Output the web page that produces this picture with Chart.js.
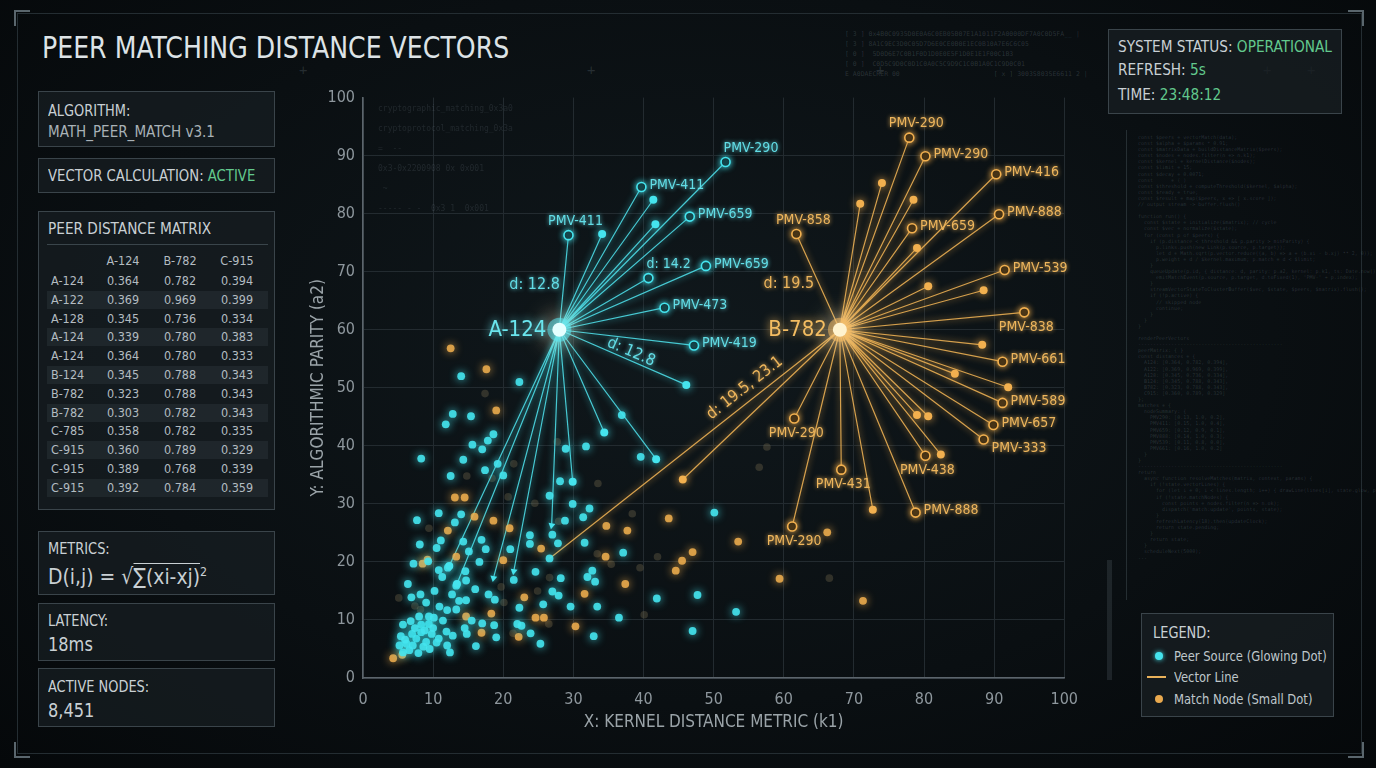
<!DOCTYPE html>
<html>
<head>
<meta charset="utf-8">
<title>Peer Matching Distance Vectors</title>
<script src="https://cdn.jsdelivr.net/npm/chart.js@4.4.1/dist/chart.umd.min.js"></script>
<style>
  html, body { margin: 0; padding: 0; }
  body {
    width: 1376px; height: 768px; overflow: hidden; position: relative;
    background: radial-gradient(ellipse at 50% 45%, #10181c 0%, #0a0f12 60%, #05080a 100%);
    font-family: "Liberation Sans Narrow", "DejaVu Sans Condensed", "Roboto Condensed", "DejaVu Sans", sans-serif;
    color: #c9d0d4;
  }
  .abs { position: absolute; }
  .nx { display: inline-block; transform: scaleX(0.9); transform-origin: 0 50%; white-space: nowrap; }
  .frame { left: 17px; top: 13px; width: 1343px; height: 739px; border: 1px solid #242d32; }
  .corner { width: 14px; height: 14px; border-color: #5a666d; border-style: solid; }
  .title { left: 42px; top: 29px; font-size: 30px; line-height: 38px; color: #dde3e6; white-space: nowrap; }
  .panel { position: absolute; left: 38px; width: 237px; box-sizing: border-box;
    border: 1px solid #3a444a; background: rgba(24, 31, 35, 0.72); }
  .panel .t { position: absolute; left: 9px; font-size: 16px; line-height: 20px; white-space: nowrap; }
  .dim { color: #a9b2b7; }
  .ok { color: #62c98d; }
  .row { position: absolute; left: 8px; width: 221px; height: 18px; font-size: 12.5px; line-height: 18px; color: #b3bcc1; }
  .row.alt { background: rgba(60, 72, 78, 0.28); }
  .row span { position: absolute; top: 0; text-align: center; width: 40px; }
  .c0 { left: 4px; text-align: left !important; }
  .c1 { left: 56px; } .c2 { left: 113px; } .c3 { left: 170px; }
  .box { position: absolute; box-sizing: border-box; border: 1px solid #3a444a; background: rgba(24, 31, 35, 0.75); }
  .code { font-family: "DejaVu Sans Mono", monospace; white-space: pre; color: rgba(150, 168, 178, 0.22); }
  .plus { color: rgba(120, 135, 145, 0.25); font-size: 14px; font-family: "DejaVu Sans Mono", monospace; }
  #chartWrap { position: absolute; left: 300px; top: 80px; width: 790px; height: 670px; }
</style>
</head>
<body>
<div class="abs frame"></div>
<div class="abs corner" style="left:14px;top:10px;border-width:2px 0 0 2px;"></div>
<div class="abs corner" style="left:1348px;top:10px;border-width:2px 2px 0 0;"></div>
<div class="abs corner" style="left:14px;top:742px;border-width:0 0 2px 2px;"></div>
<div class="abs corner" style="left:1348px;top:742px;border-width:0 2px 2px 0;"></div>

<div class="abs plus" style="left:299px;top:62px;">+</div>
<div class="abs plus" style="left:587px;top:62px;">+</div>
<div class="abs plus" style="left:876px;top:62px;">+</div>
<div class="abs plus" style="left:1263px;top:62px;">+</div>
<div class="abs plus" style="left:1307px;top:62px;">+</div>

<div class="abs title"><span class="nx" style="transform:scaleX(0.935)">PEER MATCHING DISTANCE VECTORS</span></div>

<div class="abs code" style="left:845px;top:29px;font-size:6.5px;line-height:10px;">[ 3 ] 0x4B0C0935D0E0A6C0EB05B07E1A1011F2A0000DF7A0C0D5FA__ |
[ 3 ] 8A1C9EC3D0C05D7D6E0CE0B0E1EC0B10A7E6C6C05
[ 0 ]  5D0D6E7C0B1F0D1D0E0E5F1D0E1E1F00C1B3
[ 0 ]  C0D5C9D0C0D1C0A0C5C9D9C1C0B1A0C1C9D0C01
E A0DAECRER 00                        [ x ] 3003S803SE6611 2 |</div>

<div class="panel" style="top:91px;height:56px;">
  <div class="t" style="top:9px;"><span class="nx">ALGORITHM:</span></div>
  <div class="t dim" style="top:30px;"><span class="nx" style="transform:scaleX(0.94)">MATH_PEER_MATCH v3.1</span></div>
</div>
<div class="panel" style="top:158px;height:35px;">
  <div class="t" style="top:7px;"><span class="nx" style="transform:scaleX(0.92)">VECTOR CALCULATION: <span class="ok">ACTIVE</span></span></div>
</div>
<div class="panel" style="top:211px;height:299px;" id="matrix">
  <div class="t" style="top:7px;"><span class="nx" style="transform:scaleX(0.95)">PEER DISTANCE MATRIX</span></div>
  <div class="abs" style="left:8px;top:32px;width:221px;height:1px;background:#3a454b;"></div>
</div>
<div class="panel" style="top:531px;height:64px;">
  <div class="t" style="top:7px;"><span class="nx">METRICS:</span></div>
  <div class="t" style="top:27px;font-size:22px;line-height:26px;"><span class="nx" style="transform:scaleX(0.95)">D(i,j) = √<span style="border-top:1.5px solid #c9d0d4;">∑(xi-xj)</span><sup style="font-size:13px;">2</sup></span></div>
</div>
<div class="panel" style="top:603px;height:58px;">
  <div class="t" style="top:7px;"><span class="nx">LATENCY:</span></div>
  <div class="t" style="top:28px;font-size:20px;line-height:24px;"><span class="nx">18ms</span></div>
</div>
<div class="panel" style="top:668px;height:59px;">
  <div class="t" style="top:8px;"><span class="nx">ACTIVE NODES:</span></div>
  <div class="t" style="top:29px;font-size:20px;line-height:24px;"><span class="nx">8,451</span></div>
</div>

<div class="box" style="left:1108px;top:29px;width:234px;height:85px;">
  <div class="abs" style="left:9px;top:7px;font-size:16px;line-height:20px;"><span class="nx" style="transform:scaleX(0.95)">SYSTEM STATUS: <span class="ok">OPERATIONAL</span></span></div>
  <div class="abs" style="left:9px;top:30px;font-size:16px;line-height:20px;"><span class="nx" style="transform:scaleX(0.95)">REFRESH: <span class="ok">5s</span></span></div>
  <div class="abs" style="left:9px;top:55px;font-size:16px;line-height:20px;"><span class="nx" style="transform:scaleX(0.95)">TIME: <span class="ok">23:48:12</span></span></div>
</div>

<div class="abs" style="left:1126px;top:130px;width:1px;height:470px;background:rgba(90,105,112,0.35);"></div>
<div class="abs" style="left:1107px;top:560px;width:5px;height:120px;background:rgba(90,105,112,0.25);"></div>
<div class="abs code" style="left:1138px;top:134px;font-size:5px;line-height:6.1px;">const $peers = vectorMatch(data);
const $alpha = $params * 0.91;
const $matrixData = buildDistanceMatrix($peers);
const $nodes = nodes.filter(n =&gt; n.k1);
const $kernel = kernelDistance($nodes);
const $limit = 15;
const $decay = 0.0071;
const      = ( )
const $threshold = computeThreshold($kernel, $alpha);
const $ready = true;
const $result = map($peers, x =&gt; [ x.score ]);
// output stream -&gt; buffer.flush()

function run() {
  const $state = initialize($matrix); // cycle
  const $vec = normalize($state);
  for (const p of $peers) {
    if (p.distance &lt; threshold &amp;&amp; p.parity &gt; minParity) {
      p.links.push(new Link(p.source, p.target));
      let d = Math.sqrt(p.vector.reduce((a, b) =&gt; a + (b.xi - b.xj) ** 2, 0));
      p.weight = d / $kernel.maximum; p.match = d &lt; $limit;
    }
    queueUpdate(p.id, { distance: d, parity: p.a2, kernel: p.k1, ts: Date.now() });
      emitMatchEvent(p.source, p.target, d.toFixed(1), 'PMV-' + p.index);
    }
    streamVectorStateToClusterBuffer($vec, $state, $peers, $matrix).flush();
    if (!p.active) {
      // skipped node
      continue;
    }
  }
}

renderPeerVectors
------------------------------------------------
peerMatrix: { }
const distances = {
  A124: [0.364, 0.782, 0.394],
  A122: [0.369, 0.969, 0.399],
  A128: [0.345, 0.736, 0.334],
  B124: [0.345, 0.788, 0.343],
  B782: [0.323, 0.788, 0.343],
  C915: [0.360, 0.789, 0.329]
};
matches = {
  nodeSummary: {
    PMV290: [0.13, 1.0, 0.2],
    PMV411: [0.15, 1.0, 0.4],
    PMV659: [0.12, 0.9, 0.1],
    PMV888: [0.14, 1.0, 0.3],
    PMV539: [0.11, 0.8, 0.0],
    PMV661: [0.16, 1.0, 0.2]
  }
}
------------------------------------------------
return
  async function resolveMatches(matrix, context, params) {
    if (!state.vectorLines) {
      for (let i = 0; i &lt; lines.length; i++) { drawLine(lines[i], state.glow, params.width) }
      if (!state.matchNodes) {
        const points = nodes.filter(n =&gt; n.ok);
        dispatch('match:update', points, state);
      }
      refreshLatency(18).then(updateClock);
      return state.pending;
    }
    return state;
  }
  scheduleNext(5000);
...</div>

<div id="chartWrap"><canvas id="peerChart" width="790" height="670"></canvas></div>

<div class="box" style="left:1141px;top:613px;width:193px;height:104px;">
  <div class="abs" style="left:11px;top:9px;font-size:16px;line-height:20px;"><span class="nx">LEGEND:</span></div>
  <div class="abs" style="left:13px;top:38px;width:8px;height:8px;border-radius:50%;background:#45e4ee;box-shadow:0 0 5px #45e4ee;"></div>
  <div class="abs" style="left:32px;top:32px;font-size:14px;line-height:20px;color:#bfc7cb;"><span class="nx" style="transform:scaleX(0.92)">Peer Source (Glowing Dot)</span></div>
  <div class="abs" style="left:5px;top:62px;width:19px;height:2px;background:#e9b15a;"></div>
  <div class="abs" style="left:32px;top:53px;font-size:14px;line-height:20px;color:#bfc7cb;"><span class="nx" style="transform:scaleX(0.92)">Vector Line</span></div>
  <div class="abs" style="left:13px;top:81px;width:8px;height:8px;border-radius:50%;background:#e9a94e;"></div>
  <div class="abs" style="left:32px;top:75px;font-size:14px;line-height:20px;color:#bfc7cb;"><span class="nx" style="transform:scaleX(0.92)">Match Node (Small Dot)</span></div>
</div>

<script>
// ---- data ----
const matrixCols = ['A-124', 'B-782', 'C-915'];
const matrixRows = ['A-124', 'A-122', 'A-128', 'A-124', 'A-124', 'B-124', 'B-782', 'B-782', 'C-785', 'C-915', 'C-915', 'C-915'];
const matrixValues = [
  ['0.364', '0.782', '0.394'], ['0.369', '0.969', '0.399'], ['0.345', '0.736', '0.334'],
  ['0.339', '0.780', '0.383'], ['0.364', '0.780', '0.333'], ['0.345', '0.788', '0.343'],
  ['0.323', '0.788', '0.343'], ['0.303', '0.782', '0.343'], ['0.358', '0.782', '0.335'],
  ['0.360', '0.789', '0.329'], ['0.389', '0.768', '0.339'], ['0.392', '0.784', '0.359']
];

const xTicks = [0, 10, 20, 30, 40, 50, 60, 70, 80, 90, 100];
const yTicks = [0, 10, 20, 30, 40, 50, 60, 70, 80, 90, 100];

const sourceNames = ['A-124', 'B-782'];
const sourcePoints = [[28, 60], [68, 60]];

// matches of A-124 (cyan)
const aMatchPoints = [[51.7, 88.9], [39.7, 84.6], [41.4, 82.4], [46.6, 79.5], [41.7, 78.2], [29.3, 76.3], [34.1, 76.5],
  [48.9, 71.0], [40.7, 68.9], [43.0, 63.8], [47.2, 57.3], [46.1, 50.5], [34.4, 42.3], [41.8, 37.7], [29.9, 33.8],
  [26.9, 26.3], [21.5, 18.4], [18.6, 17.2], [13.4, 16.2], [12.3, 19.3]];
const aMatchLabels = ['PMV-290', 'PMV-411', '', 'PMV-659', '', 'PMV-411', '', 'PMV-659', 'd: 14.2', 'PMV-473', 'PMV-419',
  '', '', '', '', '', '', '', '', ''];
const aMatchKinds = ['open', 'open', 'dot', 'open', 'dot', 'open', 'dot', 'open', 'open', 'open', 'open',
  'dot', 'dot', 'dot', 'dot', 'arrow', 'arrow', 'arrow', 'dot', 'dot'];

// matches of B-782 (amber)
const bMatchPoints = [[77.9, 93.1], [80.2, 89.9], [90.3, 86.8], [90.7, 79.9], [61.8, 76.5], [78.3, 77.5], [91.5, 70.3],
  [94.3, 63.0], [91.2, 54.5], [91.2, 47.4], [89.9, 43.6], [88.5, 41.1], [80.2, 38.3], [68.2, 35.9], [78.8, 28.5],
  [61.5, 44.7], [61.2, 26.1], [74.0, 85.3], [70.9, 81.7], [78.5, 82.4], [79.0, 74.1], [80.6, 67.5], [88.5, 66.8],
  [88.3, 57.4], [84.4, 52.4], [92.0, 50.1], [79.0, 45.3], [80.6, 45.1], [82.4, 38.5], [72.7, 29.0], [45.6, 34.2],
  [26.6, 20.6]];
const bMatchLabels = ['PMV-290', 'PMV-290', 'PMV-416', 'PMV-888', 'PMV-858', 'PMV-659', 'PMV-539', 'PMV-838', 'PMV-661',
  'PMV-589', 'PMV-657', 'PMV-333', 'PMV-438', 'PMV-431', 'PMV-888', 'PMV-290', 'PMV-290',
  '', '', '', '', '', '', '', '', '', '', '', '', '', '', ''];
const bMatchKinds = ['open', 'open', 'open', 'open', 'open', 'open', 'open', 'open', 'open', 'open', 'open', 'open',
  'open', 'open', 'open', 'open', 'open', 'dot', 'dot', 'dot', 'dot', 'dot', 'dot', 'dot', 'dot', 'dot', 'dot',
  'dot', 'dot', 'dot', 'dot', 'link'];

// unmatched nodes of the cloud
const cloudCyan = [[14.0, 52.0], [22.3, 51.0], [12.8, 45.5], [15.4, 45.1], [11.8, 43.7], [18.6, 42.0], [17.8, 40.9],
  [17.0, 39.4], [15.6, 40.2], [8.3, 37.8], [14.3, 37.6], [36.9, 45.3], [31.8, 39.9], [28.9, 39.5], [39.6, 38.1],
  [12.5, 34.8], [17.4, 35.8], [20.0, 34.9], [19.2, 36.9], [28.1, 33.9], [29.9, 30.0], [26.6, 31.4], [32.3, 29.2],
  [31.4, 27.7], [28.8, 27.1], [27.0, 24.7], [27.8, 23.2], [31.6, 23.3], [37.1, 21.6], [23.8, 24.6], [23.8, 23.1],
  [21.0, 22.2], [26.6, 20.6], [7.7, 27.2], [10.8, 28.4], [13.1, 26.8], [14.0, 28.2], [8.1, 23.0], [10.5, 22.4],
  [11.1, 23.7], [14.3, 23.5], [15.1, 21.8], [16.9, 23.8], [17.5, 22.2], [7.2, 19.7], [9.3, 20.1], [12.1, 19.0],
  [10.8, 18.6], [14.6, 18.4], [16.6, 20.0], [11.3, 17.4], [13.3, 15.9], [14.7, 16.8], [12.7, 14.4], [13.7, 13.3],
  [14.7, 13.4], [16.0, 15.3], [17.9, 14.4], [18.8, 13.5], [21.5, 16.9], [24.6, 18.3], [28.2, 17.2], [27.0, 14.9],
  [27.9, 14.2], [25.7, 12.7], [29.6, 12.3], [33.4, 12.3], [32.7, 18.5], [32.0, 17.4], [33.1, 16.6], [36.5, 10.4],
  [41.9, 13.7], [47.7, 14.3], [47.0, 8.1], [32.9, 7.2], [22.3, 12.1], [22.0, 9.3], [22.6, 9.0], [23.9, 7.7],
  [25.3, 5.9], [18.7, 9.1], [19.0, 7.0], [17.0, 9.4], [16.1, 5.5], [15.5, 9.9], [14.5, 8.6], [14.8, 7.6], [12.8, 7.3],
  [11.9, 8.0], [12.4, 4.4], [12.0, 5.6], [10.5, 6.1], [10.8, 6.8], [9.4, 9.3], [8.3, 9.2], [5.7, 9.2], [6.9, 13.9],
  [8.2, 14.4], [9.0, 13.0], [10.2, 15.0], [10.9, 12.3], [12.0, 11.7], [13.3, 11.8], [11.4, 9.9], [7.0, 7.6],
  [7.6, 6.8], [8.3, 7.9], [9.0, 6.2], [6.2, 5.9], [5.2, 5.6], [6.6, 4.8], [7.9, 4.3], [5.7, 4.4], [7.1, 5.6],
  [5.4, 7.2], [6.4, 16.2], [10.1, 10.4], [9.4, 10.6], [50.1, 28.5], [53.2, 11.4], [8.8, 8.2], [9.8, 7.6], [7.4, 8.6],
  [8.6, 5.4], [6.0, 6.6], [9.5, 5.0], [10.0, 8.6], [6.8, 9.8], [8.0, 10.6]];
const cloudAmber = [[12.5, 56.8], [17.6, 53.2], [19.0, 46.1], [13.1, 31.1], [14.5, 31.1], [18.6, 27.1], [20.9, 25.8],
  [15.9, 27.8], [12.1, 25.4], [9.2, 20.4], [8.5, 19.7], [13.3, 20.9], [20.0, 20.3], [25.4, 22.3], [34.7, 26.2],
  [37.7, 25.4], [43.6, 27.5], [34.6, 20.9], [47.0, 21.7], [45.5, 20.2], [44.6, 18.5], [37.4, 16.2], [31.6, 14.5],
  [23.0, 13.9], [18.3, 11.1], [14.7, 10.6], [24.6, 10.4], [25.8, 10.4], [30.3, 8.9], [16.9, 7.8], [22.2, 7.1],
  [53.5, 23.5], [59.4, 17.1], [66.2, 25.1], [71.3, 13.3], [4.3, 3.4], [5.6, 4.0]];
const cloudFaded = [[27.7, 40.7], [33.5, 33.5], [38.4, 28.3], [42.0, 20.9], [40.1, 10.9], [26.5, 9.3], [17.4, 49.0],
  [21.5, 36.9], [14.8, 34.8], [18.4, 34.4], [20.7, 31.2], [24.5, 30.1], [27.9, 27.0], [21.4, 7.7], [9.4, 25.8],
  [33.4, 21.4], [35.4, 19.6], [39.5, 19.0], [19.7, 15.7], [24.9, 15.0], [20.1, 13.0], [26.6, 17.3], [7.4, 12.4],
  [56.5, 36.3], [57.6, 39.8], [66.5, 17.2], [5.1, 13.8], [8.2, 11.8]];

// distance notes: which spoke they belong to
const noteTexts = ['d: 12.8', 'd: 12.8', 'd: 19.5', 'd: 19.5, 23.1'];
const notePeer = [0, 0, 1, 1];
const noteMatch = [5, 11, 4, 31];

// ---- styling (placement of labels) ----
const aLabelSide = ['ar', 'r', '', 'r', '', 'a', '', 'r', 'ar', 'r', 'r'];
const bLabelSide = ['a', 'r', 'r', 'r', 'a', 'r', 'r', 'b', 'r', 'r', 'r', 'br', 'b', 'b', 'r', 'b', 'b'];
const noteStyle = [
  { along: false }, { along: true, t: 0.54, off: -8 },
  { along: false }, { along: true, t: 0.3, off: -13 }
];

const CYAN = '#45e4ee';
const AMBER = '#f2b04f';
const FONT = '"Liberation Sans Narrow", "DejaVu Sans Condensed", "Roboto Condensed", "DejaVu Sans", sans-serif';

// matrix rows
const matrixEl = document.getElementById('matrix');
(function buildMatrix() {
  const head = document.createElement('div');
  head.className = 'row';
  head.style.top = '40px';
  head.innerHTML = '<span class="c0"></span>' + matrixCols.map((c, i) => `<span class="c${i + 1}">${c}</span>`).join('');
  matrixEl.appendChild(head);
  matrixRows.forEach((r, i) => {
    const row = document.createElement('div');
    row.className = 'row' + (i % 2 ? ' alt' : '');
    row.style.top = (60 + i * 18.8) + 'px';
    row.innerHTML = `<span class="c0">${r}</span>` + matrixValues[i].map((v, j) => `<span class="c${j + 1}">${v}</span>`).join('');
    matrixEl.appendChild(row);
  });
})();

const toXY = p => ({ x: p[0], y: p[1] });

function spokeData(src, pts) {
  const out = [];
  pts.forEach(p => { out.push(toXY(src), toXY(p), { x: src[0], y: null }); });
  return out;
}
const pick = (pts, kinds, k) => pts.filter((p, i) => kinds[i] === k).map(toXY);

const glowPlugin = {
  id: 'glow',
  beforeDatasetDraw(chart, args) {
    const ds = chart.data.datasets[args.index];
    if (!ds.glow) return;
    chart.ctx.save();
    chart.ctx.shadowColor = ds.glowColor;
    chart.ctx.shadowBlur = ds.glow;
  },
  afterDatasetDraw(chart, args) {
    if (chart.data.datasets[args.index].glow) chart.ctx.restore();
  }
};

const labelPlugin = {
  id: 'peerLabels',
  afterDatasetsDraw(chart) {
    const { ctx, scales: { x, y } } = chart;
    const px = p => [x.getPixelForValue(p[0]), y.getPixelForValue(p[1])];

    function matchLabels(pts, labels, sides, color) {
      ctx.save();
      ctx.font = '14px ' + FONT;
      ctx.fillStyle = color;
      ctx.shadowColor = color;
      ctx.shadowBlur = 4;
      ctx.textBaseline = 'middle';
      labels.forEach((txt, i) => {
        if (!txt) return;
        const [cx, cy] = px(pts[i]);
        const side = sides[i];
        if (side === 'r') { ctx.textAlign = 'left'; ctx.fillText(txt, cx + 8, cy - 2); }
        else if (side === 'ar') { ctx.textAlign = 'left'; ctx.fillText(txt, cx - 2, cy - 14); }
        else if (side === 'a') { ctx.textAlign = 'center'; ctx.fillText(txt, cx + 7, cy - 14); }
        else if (side === 'b') { ctx.textAlign = 'center'; ctx.fillText(txt, cx + 2, cy + 15); }
        else if (side === 'br') { ctx.textAlign = 'left'; ctx.fillText(txt, cx + 8, cy + 9); }
      });
      ctx.restore();
    }
    matchLabels(aMatchPoints, aMatchLabels, aLabelSide, '#62dde6');
    matchLabels(bMatchPoints, bMatchLabels, bLabelSide, '#edb55c');

    // source names
    ctx.save();
    ctx.font = '22px ' + FONT;
    ctx.textAlign = 'right';
    ctx.textBaseline = 'middle';
    sourceNames.forEach((n, i) => {
      const [cx, cy] = px(sourcePoints[i]);
      const c = i === 0 ? '#6ae6ee' : '#f4bd62';
      ctx.fillStyle = c;
      ctx.shadowColor = c;
      ctx.shadowBlur = 8;
      ctx.fillText(n, cx - 13, cy + 1);
    });
    ctx.restore();

    // distance notes
    noteTexts.forEach((txt, i) => {
      const src = px(sourcePoints[notePeer[i]]);
      const end = px((notePeer[i] === 0 ? aMatchPoints : bMatchPoints)[noteMatch[i]]);
      const c = notePeer[i] === 0 ? '#62dde6' : '#edb55c';
      const st = noteStyle[i];
      ctx.save();
      ctx.fillStyle = c;
      ctx.shadowColor = c;
      ctx.shadowBlur = 4;
      ctx.textBaseline = 'middle';
      if (st.along) {
        const dx = end[0] - src[0], dy = end[1] - src[1];
        const len = Math.hypot(dx, dy);
        let ang = Math.atan2(dy, dx);
        if (dx < 0) ang += Math.PI;
        const mx = src[0] + dx * st.t, my = src[1] + dy * st.t;
        let nx = -dy / len, ny = dx / len;
        if (ny > 0) { nx = -nx; ny = -ny; }
        ctx.translate(mx - nx * st.off, my - ny * st.off);
        ctx.rotate(ang);
        ctx.font = '16px ' + FONT;
        ctx.textAlign = 'center';
        ctx.fillText(txt, 0, 0);
      } else {
        const mx = (src[0] + end[0]) / 2, my = (src[1] + end[1]) / 2;
        ctx.font = '16px ' + FONT;
        ctx.textAlign = 'right';
        ctx.fillText(txt, mx - 4, my + 2);
      }
      ctx.restore();
    });
  }
};

const gridColor = '#232b30';
new Chart(document.getElementById('peerChart'), {
  type: 'scatter',
  data: {
    datasets: [
      { label: 'peer sources', data: sourcePoints.map(toXY), pointRadius: 7, pointBackgroundColor: ['#e4ffff', '#fff3cf'],
        pointBorderWidth: 0, glow: 22, glowColor: '#ffffff', order: 0 },
      { label: 'source halo', data: sourcePoints.map(toXY), pointRadius: 12,
        pointBackgroundColor: ['rgba(69,228,238,0.55)', 'rgba(242,176,79,0.55)'], pointBorderWidth: 0,
        glow: 28, glowColor: 'rgba(255,230,160,0.9)', order: 1 },
      { label: 'A open', data: pick(aMatchPoints, aMatchKinds, 'open'), pointRadius: 4.5, pointBackgroundColor: '#061014',
        pointBorderColor: CYAN, pointBorderWidth: 1.6, glow: 6, glowColor: CYAN, order: 2 },
      { label: 'A dots', data: pick(aMatchPoints, aMatchKinds, 'dot'), pointRadius: 4, pointBackgroundColor: CYAN,
        pointBorderWidth: 0, glow: 8, glowColor: CYAN, order: 2 },
      { label: 'A arrows', data: pick(aMatchPoints, aMatchKinds, 'arrow'), pointStyle: 'triangle', pointRotation: 190,
        pointRadius: 4, pointBackgroundColor: CYAN, pointBorderWidth: 0, glow: 6, glowColor: CYAN, order: 2 },
      { label: 'B open', data: pick(bMatchPoints, bMatchKinds, 'open'), pointRadius: 4.5, pointBackgroundColor: '#120d05',
        pointBorderColor: AMBER, pointBorderWidth: 1.6, glow: 6, glowColor: AMBER, order: 2 },
      { label: 'B dots', data: pick(bMatchPoints, bMatchKinds, 'dot'), pointRadius: 4, pointBackgroundColor: AMBER,
        pointBorderWidth: 0, glow: 8, glowColor: AMBER, order: 2 },
      { label: 'cloud cyan', data: cloudCyan.map(toXY), pointRadius: 3.9, pointBackgroundColor: 'rgba(69,228,238,0.9)',
        pointBorderWidth: 0, glow: 9, glowColor: CYAN, order: 3 },
      { label: 'cloud amber', data: cloudAmber.map(toXY), pointRadius: 3.9, pointBackgroundColor: 'rgba(242,176,79,0.85)',
        pointBorderWidth: 0, glow: 8, glowColor: AMBER, order: 4 },
      { label: 'A spokes', data: spokeData(sourcePoints[0], aMatchPoints), showLine: true, spanGaps: false,
        borderColor: 'rgba(80,228,238,0.85)', borderWidth: 1.2, pointRadius: 0, glow: 6, glowColor: CYAN, order: 5 },
      { label: 'B spokes', data: spokeData(sourcePoints[1], bMatchPoints), showLine: true, spanGaps: false,
        borderColor: 'rgba(245,182,86,0.85)', borderWidth: 1.2, pointRadius: 0, glow: 6, glowColor: AMBER, order: 5 },
      { label: 'cloud faded', data: cloudFaded.map(toXY), pointRadius: 3.8, pointBackgroundColor: 'rgba(120,108,80,0.35)',
        pointBorderWidth: 0, order: 6 }
    ]
  },
  options: {
    responsive: false,
    animation: false,
    events: [],
    layout: { padding: { top: 12, right: 17, left: 0, bottom: 0 } },
    plugins: { legend: { display: false }, tooltip: { enabled: false } },
    scales: {
      x: {
        type: 'linear', min: xTicks[0], max: xTicks[xTicks.length - 1],
        afterBuildTicks: s => { s.ticks = xTicks.map(v => ({ value: v })); },
        afterFit: s => { s.height = 72; },
        grid: { color: gridColor, drawTicks: false },
        border: { color: '#5c656c', width: 1.6 },
        ticks: { color: '#8e979d', padding: 12, font: { family: FONT, size: 16 } },
        title: { display: true, text: 'X: KERNEL DISTANCE METRIC (k1)', color: '#9aa3a8',
          font: { family: FONT, size: 17 }, padding: { bottom: 17 } }
      },
      y: {
        type: 'linear', min: yTicks[0], max: yTicks[yTicks.length - 1],
        afterBuildTicks: s => { s.ticks = yTicks.map(v => ({ value: v })); },
        afterFit: s => { s.width = 63; },
        grid: { color: c => (c.tick && c.tick.value === 100 ? 'rgba(0,0,0,0)' : gridColor), drawTicks: false },
        border: { color: '#5c656c', width: 1.6 },
        ticks: { color: '#8e979d', padding: 8, font: { family: FONT, size: 16 } },
        title: { display: true, text: 'Y: ALGORITHMIC PARITY (a2)', color: '#9aa3a8',
          font: { family: FONT, size: 17 }, padding: { top: 8 } }
      }
    }
  },
  plugins: [glowPlugin, labelPlugin]
});
</script>
<div class="abs code" style="left:378px;top:99px;font-size:8px;line-height:20px;color:rgba(140,155,165,0.16);">cryptographic_matching_0x3a0
cryptoprotocol_matching_0x3a
=  --
0x3-0x2200908 0x 0x001
 ~
----- - -  0x3 1  0x001</div>
</body>
</html>
